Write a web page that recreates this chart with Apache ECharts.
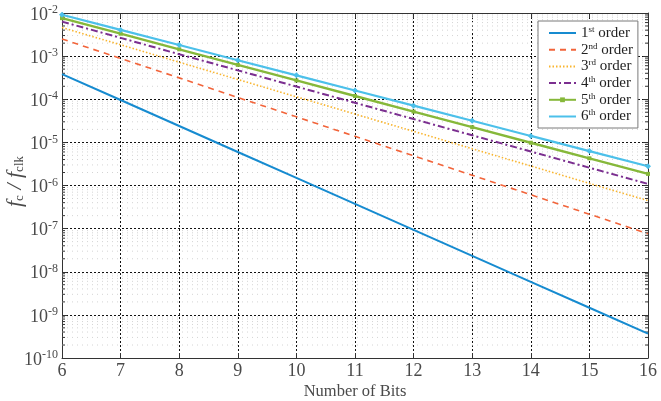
<!DOCTYPE html>
<html>
<head>
<meta charset="utf-8">
<script src="https://cdn.jsdelivr.net/npm/echarts@6/dist/echarts.min.js"></script>
<style>
  html, body { margin: 0; padding: 0; background: #fff; }
  #chart { width: 661px; height: 401px; }
</style>
</head>
<body>
<div id="chart"></div>
<script>
// Number of bits on the horizontal axis
const bits = [6, 7, 8, 9, 10, 11, 12, 13, 14, 15, 16];

// f_c / f_clk for each filter order
const order1 = [3.83e-4, 9.59e-5, 2.40e-5, 5.99e-6, 1.50e-6, 3.74e-7, 9.36e-8, 2.34e-8, 5.85e-9, 1.46e-9, 3.66e-10];
const order2 = [2.50e-3, 8.84e-4, 3.13e-4, 1.10e-4, 3.91e-5, 1.38e-5, 4.88e-6, 1.73e-6, 6.10e-7, 2.16e-7, 7.63e-8];
const order3 = [4.60e-3, 1.83e-3, 7.24e-4, 2.87e-4, 1.14e-4, 4.53e-5, 1.80e-5, 7.14e-6, 2.83e-6, 1.12e-6, 4.45e-7];
const order4 = [6.30e-3, 2.65e-3, 1.11e-3, 4.68e-4, 1.97e-4, 8.28e-5, 3.48e-5, 1.46e-5, 6.15e-6, 2.59e-6, 1.09e-6];
const order5 = [7.60e-3, 3.31e-3, 1.44e-3, 6.27e-4, 2.73e-4, 1.19e-4, 5.17e-5, 2.25e-5, 9.80e-6, 4.27e-6, 1.86e-6];
const order6 = [9.10e-3, 4.05e-3, 1.81e-3, 8.04e-4, 3.58e-4, 1.60e-4, 7.11e-5, 3.17e-5, 1.41e-5, 6.28e-6, 2.80e-6];

// Legend labels: number, ordinal suffix
const orderNames = [['1', 'st'], ['2', 'nd'], ['3', 'rd'], ['4', 'th'], ['5', 'th'], ['6', 'th']];

// Minor log positions (2..9 within every decade), used for faint grid lines
const minorValues = [];
for (let e = -10; e < -2; e++) {
  for (let m = 2; m <= 9; m++) minorValues.push([bits[0], m * Math.pow(10, e)]);
}

const SERIF = '"Liberation Serif", "DejaVu Serif", serif';
const TEXT = '#4a4a4a';
const xMin = bits[0], xMax = bits[bits.length - 1];

function pair(ys) { return bits.map((b, i) => [b, ys[i]]); }

const chart = echarts.init(document.getElementById('chart'), null, { renderer: 'canvas' });

const lineSeries = (name, data, color, width, type, extra) => Object.assign({
  name, type: 'line', data: pair(data), showSymbol: false, symbol: 'none',
  lineStyle: { color, width, type }, itemStyle: { color }, z: 5, silent: true
}, extra || {});

// legend entries: hide the default marker for the lines drawn without symbols
const hidden = { color: 'rgba(0,0,0,0)', borderWidth: 0, opacity: 0 };
const legendData = [
  { name: 'o1', itemStyle: hidden },
  { name: 'o2', itemStyle: hidden },
  { name: 'o3', itemStyle: hidden },
  { name: 'o4', itemStyle: hidden },
  { name: 'o5' },
  { name: 'o6', itemStyle: hidden }
];

const option = {
  animation: false,
  backgroundColor: '#fff',
  grid: { left: 62, right: 13, top: 13, bottom: 43, containLabel: false, outerBoundsMode: 'none' },
  legend: {
    orient: 'vertical',
    left: 538, top: 21,
    backgroundColor: '#fff',
    borderColor: '#7a7a7a', borderWidth: 1,
    padding: [4, 5, 4, 10],
    itemWidth: 27, itemHeight: 6, itemGap: 1.2,
    data: legendData,
    formatter: function (name) {
      const i = Number(name.slice(1)) - 1;
      return '{n|' + orderNames[i][0] + '}{s|' + orderNames[i][1] + '}{n| order}';
    },
    textStyle: {
      rich: {
        n: { fontFamily: SERIF, fontSize: 15, lineHeight: 16, color: '#222' },
        s: { fontFamily: SERIF, fontSize: 9, lineHeight: 6, verticalAlign: 'top', color: '#222' }
      }
    }
  },
  xAxis: [{
    type: 'value', min: xMin, max: xMax, interval: 1,
    name: 'Number of Bits', nameLocation: 'middle', nameGap: 25, nameMoveOverlap: false,
    nameTextStyle: { fontFamily: SERIF, fontSize: 16.5, color: TEXT },
    axisLine: { show: true, lineStyle: { color: '#333', width: 1 } },
    axisTick: { show: true, inside: true, length: 5, lineStyle: { color: '#333' } },
    axisLabel: { fontFamily: SERIF, fontSize: 18, color: TEXT, margin: 4 },
    splitLine: { show: true, lineStyle: { color: '#111', width: 1, type: [2, 2] } }
  }, {
    type: 'value', min: xMin, max: xMax, interval: 1, position: 'top',
    axisLine: { show: true, onZero: false, lineStyle: { color: '#333', width: 1 } },
    axisTick: { show: true, inside: true, length: 5, lineStyle: { color: '#333' } },
    axisLabel: { show: false }, splitLine: { show: false }
  }],
  yAxis: [{
    type: 'log', logBase: 10, min: 1e-10, max: 1e-2,
    name: '{f|f}{c|c}{f| / f}{c|clk}',
    nameLocation: 'middle', nameGap: 36, nameRotate: 90, nameMoveOverlap: false,
    nameTextStyle: {
      padding: [0, 0, 0, 8],
      rich: {
        f: { fontFamily: SERIF, fontStyle: 'italic', fontSize: 22, lineHeight: 22, color: TEXT },
        c: { fontFamily: SERIF, fontSize: 13, lineHeight: 10, verticalAlign: 'bottom', color: TEXT }
      }
    },
    axisLine: { show: true, lineStyle: { color: '#333', width: 1 } },
    axisTick: { show: true, inside: true, length: 5, lineStyle: { color: '#333' } },
    axisLabel: {
      margin: 4,
      formatter: function (v) {
        const e = Math.round(Math.log10(v));
        return '{b|10}{e|' + e + '}';
      },
      rich: {
        b: { fontFamily: SERIF, fontSize: 18, lineHeight: 18, color: TEXT, padding: [4, 0, 0, 0] },
        e: { fontFamily: SERIF, fontSize: 12, lineHeight: 8, verticalAlign: 'top', color: TEXT }
      }
    },
    splitLine: { show: true, lineStyle: { color: '#111', width: 1, type: [2, 2] } }
  }, {
    type: 'log', logBase: 10, min: 1e-10, max: 1e-2, position: 'right',
    axisLine: { show: true, onZero: false, lineStyle: { color: '#333', width: 1 } },
    axisTick: { show: true, inside: true, length: 5, lineStyle: { color: '#333' } },
    axisLabel: { show: false }, splitLine: { show: false }
  }],
  series: [
    {
      // faint minor grid lines and small inward ticks on both y axis lines
      type: 'custom', silent: true, z: 1,
      data: minorValues,
      renderItem: function (params, api) {
        const y = api.value(1);
        const p0 = api.coord([xMin, y]);
        const p1 = api.coord([xMax, y]);
        return {
          type: 'group',
          children: [
            { type: 'line', shape: { x1: p0[0], y1: p0[1], x2: p1[0], y2: p1[1] },
              style: { stroke: '#d4d4d4', lineWidth: 1, lineDash: [1, 4] } },
            { type: 'line', shape: { x1: p0[0], y1: p0[1], x2: p0[0] + 3, y2: p0[1] },
              style: { stroke: '#333', lineWidth: 1 } },
            { type: 'line', shape: { x1: p1[0] - 3, y1: p1[1], x2: p1[0], y2: p1[1] },
              style: { stroke: '#333', lineWidth: 1 } }
          ]
        };
      }
    },
    lineSeries('o1', order1, '#168bd0', 2, 'solid'),
    lineSeries('o2', order2, '#f2643a', 1.6, [6, 5]),
    lineSeries('o3', order3, '#f9b52f', 1.6, [1.5, 2]),
    lineSeries('o4', order4, '#7b2f90', 2, [7, 3, 2, 3]),
    lineSeries('o5', order5, '#86b83a', 2.4, 'solid', { showSymbol: true, symbol: 'rect', symbolSize: 4 }),
    lineSeries('o6', order6, '#4cc0ea', 2.2, 'solid', { showSymbol: true, symbol: 'diamond', symbolSize: 6 })
  ]
};

chart.setOption(option);
</script>
</body>
</html>
